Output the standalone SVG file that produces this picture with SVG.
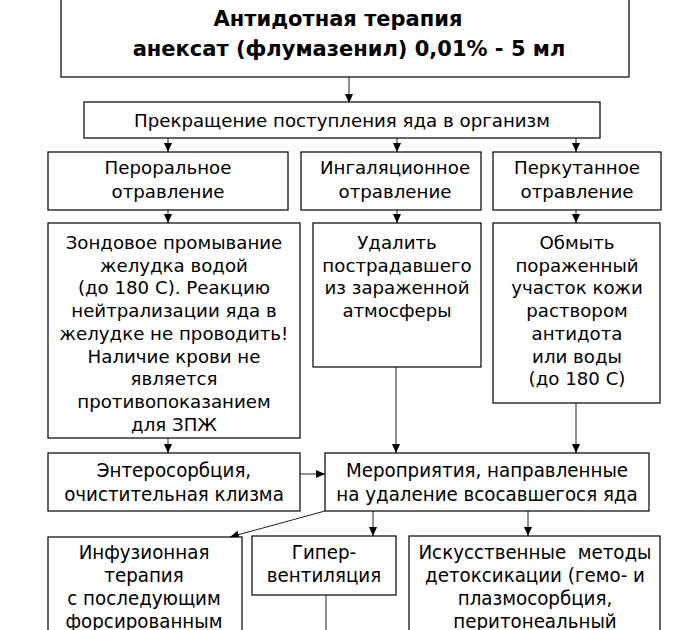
<svg xmlns="http://www.w3.org/2000/svg" width="693" height="630" viewBox="0 0 693 630">
<style>
  .box{fill:#fff;stroke:#000;stroke-width:1.2}
  .t{font-family:"DejaVu Sans","Verdana",sans-serif;font-size:18.2px;fill:#000;text-anchor:middle}
  .b{font-family:"DejaVu Sans","Verdana",sans-serif;font-size:21px;font-weight:bold;fill:#000;text-anchor:middle}
  .c{font-family:"DejaVu Sans Condensed","DejaVu Sans",sans-serif;font-stretch:condensed;font-size:20.3px;fill:#000;text-anchor:middle}
  .ln{stroke:#222;stroke-width:1;fill:none}
</style>
<defs>
  <marker id="ah" markerUnits="userSpaceOnUse" markerWidth="9" markerHeight="9" viewBox="0 0 9 9" refX="9" refY="4.5" orient="auto">
    <path d="M0,0.5 L9,4.5 L0,8.5 Z" fill="#000"/>
  </marker>
</defs>
<rect width="693" height="630" fill="#fff"/>

<g id="connectors">
  <line class="ln" x1="349" y1="77" x2="349" y2="103" marker-end="url(#ah)"/>
  <line class="ln" x1="168" y1="138" x2="168" y2="152" marker-end="url(#ah)"/>
  <line class="ln" x1="397" y1="138" x2="397" y2="152" marker-end="url(#ah)"/>
  <line class="ln" x1="576" y1="138" x2="576" y2="152" marker-end="url(#ah)"/>
  <line class="ln" x1="168" y1="210" x2="168" y2="223" marker-end="url(#ah)"/>
  <line class="ln" x1="397" y1="210" x2="397" y2="223" marker-end="url(#ah)"/>
  <line class="ln" x1="576" y1="210" x2="576" y2="223" marker-end="url(#ah)"/>
  <line class="ln" x1="168" y1="438" x2="168" y2="453" marker-end="url(#ah)"/>
  <line class="ln" x1="396" y1="367" x2="396" y2="453" marker-end="url(#ah)"/>
  <line class="ln" x1="576" y1="403" x2="576" y2="453" marker-end="url(#ah)"/>
  <line class="ln" x1="300" y1="474" x2="325" y2="474" marker-end="url(#ah)"/>
  <line class="ln" x1="325" y1="511" x2="230" y2="537" marker-end="url(#ah)"/>
  <line class="ln" x1="373" y1="511" x2="373" y2="536" marker-end="url(#ah)"/>
  <line class="ln" x1="528" y1="511" x2="528" y2="536" marker-end="url(#ah)"/>
  <line class="ln" x1="326" y1="595" x2="326" y2="630"/>
</g>

<g id="antidote">
  <rect class="box" x="61" y="-1" width="568" height="78"/>
  <text class="b" x="338" y="26">Антидотная терапия</text>
  <text class="b" x="349" y="56">анексат (флумазенил) 0,01% - 5 мл</text>
</g>
<g id="stop">
  <rect class="box" x="84" y="102" width="516" height="36"/>
  <text class="t" x="342" y="127">Прекращение поступления яда в организм</text>
</g>
<g id="oral">
  <rect class="box" x="48" y="152" width="240" height="58"/>
  <text class="t" x="168" y="174">Пероральное</text>
  <text class="t" x="168" y="198">отравление</text>
</g>
<g id="inhal">
  <rect class="box" x="301" y="152" width="180" height="58"/>
  <text class="t" x="395" y="174">Ингаляционное</text>
  <text class="t" x="395" y="198">отравление</text>
</g>
<g id="percut">
  <rect class="box" x="493" y="152" width="168" height="58"/>
  <text class="t" x="577" y="174">Перкутанное</text>
  <text class="t" x="577" y="198">отравление</text>
</g>
<g id="lavage">
  <rect class="box" x="48" y="223" width="252" height="215"/>
  <text class="t" x="174" y="249">Зондовое промывание</text>
  <text class="t" x="174" y="271.7">желудка водой</text>
  <text class="t" x="174" y="294.4">(до 180 С). Реакцию</text>
  <text class="t" x="174" y="317.1">нейтрализации яда в</text>
  <text class="t" x="174" y="339.8">желудке не проводить!</text>
  <text class="t" x="174" y="362.5">Наличие крови не</text>
  <text class="t" x="174" y="385.2">является</text>
  <text class="t" x="174" y="407.9">противопоказанием</text>
  <text class="t" x="174" y="430.6">для ЗПЖ</text>
</g>
<g id="remove">
  <rect class="box" x="313" y="223" width="168" height="144"/>
  <text class="t" x="397" y="249">Удалить</text>
  <text class="t" x="397" y="271.7">пострадавшего</text>
  <text class="t" x="397" y="294.4">из зараженной</text>
  <text class="t" x="397" y="317.1">атмосферы</text>
</g>
<g id="wash">
  <rect class="box" x="493" y="223" width="167" height="180"/>
  <text class="t" x="577" y="249">Обмыть</text>
  <text class="t" x="577" y="271.7">пораженный</text>
  <text class="t" x="577" y="294.4">участок кожи</text>
  <text class="t" x="577" y="317.1">раствором</text>
  <text class="t" x="577" y="339.8">антидота</text>
  <text class="t" x="577" y="362.5">или воды</text>
  <text class="t" x="577" y="385.2">(до 180 С)</text>
</g>
<g id="entero">
  <rect class="box" x="48" y="453" width="252" height="58"/>
  <text class="c" x="174" y="477">Энтеросорбция,</text>
  <text class="c" x="174" y="501">очистительная клизма</text>
</g>
<g id="measures">
  <rect class="box" x="325" y="453" width="324" height="58"/>
  <text class="c" x="487" y="477">Мероприятия, направленные</text>
  <text class="c" x="487" y="501">на удаление всосавшегося яда</text>
</g>
<g id="infusion">
  <rect class="box" x="48" y="537" width="194" height="100"/>
  <text class="c" x="144" y="559">Инфузионная</text>
  <text class="c" x="144" y="582">терапия</text>
  <text class="c" x="144" y="605">с последующим</text>
  <text class="c" x="144" y="628">форсированным</text>
</g>
<g id="hypervent">
  <rect class="box" x="252" y="536" width="144" height="59"/>
  <text class="c" x="324" y="559">Гипер-</text>
  <text class="c" x="324" y="582">вентиляция</text>
</g>
<g id="detox">
  <rect class="box" x="409" y="536" width="251" height="100"/>
  <text class="c" x="535" y="559" xml:space="preserve">Искусственные  методы</text>
  <text class="c" x="535" y="582">детоксикации (гемо- и</text>
  <text class="c" x="535" y="605">плазмосорбция,</text>
  <text class="c" x="535" y="628">перитонеальный</text>
</g>
</svg>
